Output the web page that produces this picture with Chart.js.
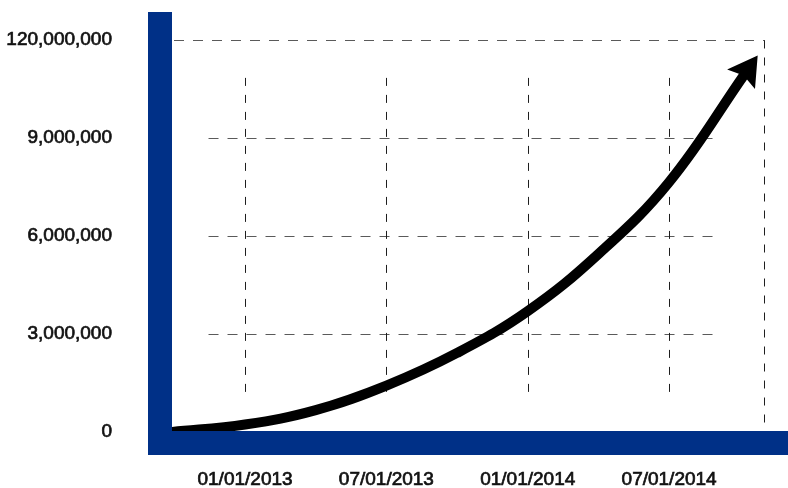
<!DOCTYPE html>
<html>
<head>
<meta charset="utf-8">
<script src="https://cdn.jsdelivr.net/npm/chart.js@4/dist/chart.umd.min.js"></script>
<style>
  html, body { margin: 0; padding: 0; background: #fff; }
  canvas { display: block; }
</style>
</head>
<body>
<canvas id="c" width="788" height="488"></canvas>
<script>
// Time axis in months counted from 01/01/2013
const months = [-3.1, 0, 3, 6, 9, 12, 15, 18, 21.2];
const values = [0, 230000, 670000, 1420000, 2420000, 3700000, 5450000, 7650000, 10950000];

const xTickMonths = [0, 6, 12, 18];
const xTickLabels = ['01/01/2013', '07/01/2013', '01/01/2014', '07/01/2014'];

const yTickValues = [0, 3000000, 6000000, 9000000, 12000000];
const yTickLabels = ['0', '3,000,000', '6,000,000', '9,000,000', '120,000,000'];

const AXIS_BLUE = '#003087';
const LABEL_FONT = { family: "'Liberation Sans', Arial, Helvetica, sans-serif", size: 19 };

// Dashed guide lines, the arrowhead and the heavy blue L-shaped axes
const frame = {
  id: 'frame',
  beforeDatasetsDraw(chart) {
    const { ctx, chartArea: a, scales: { x, y } } = chart;
    ctx.save();
    ctx.lineWidth = 1;

    ctx.strokeStyle = '#5a5a5a';
    ctx.setLineDash([10, 9]);
    yTickValues.slice(1, -1).forEach(v => {
      const py = Math.round(y.getPixelForValue(v)) + 0.5;
      ctx.beginPath();
      ctx.moveTo(x.getPixelForValue(-1.55), py);
      ctx.lineTo(x.getPixelForValue(19.9), py);
      ctx.stroke();
    });
    const topY = Math.round(y.getPixelForValue(yTickValues[yTickValues.length - 1])) + 0.5;
    ctx.beginPath();
    ctx.moveTo(a.left + 2, topY);
    ctx.lineTo(a.right, topY);
    ctx.stroke();

    ctx.strokeStyle = '#1e1e1e';
    ctx.setLineDash([8, 9]);
    xTickMonths.forEach(m => {
      const px = Math.round(x.getPixelForValue(m)) + 0.5;
      ctx.beginPath();
      ctx.moveTo(px, y.getPixelForValue(10840000));
      ctx.lineTo(px, y.getPixelForValue(1130000));
      ctx.stroke();
    });
    const rx = Math.round(a.right) - 0.5;
    ctx.beginPath();
    ctx.moveTo(rx, topY);
    ctx.lineTo(rx, a.bottom - 2);
    ctx.stroke();
    ctx.restore();
  },
  afterDatasetsDraw(chart) {
    const { ctx, chartArea: a } = chart;
    const pts = chart.getDatasetMeta(0).data;
    const last = pts[pts.length - 1];
    const prev = pts[pts.length - 2];
    const dx = last.x - (last.cp1x ?? prev.x);
    const dy = last.y - (last.cp1y ?? prev.y);
    const len = Math.hypot(dx, dy) || 1;
    const ux = dx / len, uy = dy / len;
    const nx = -uy, ny = ux;
    const L = 23, back = 6, W = 17;

    ctx.save();
    ctx.fillStyle = '#000';
    ctx.beginPath();
    ctx.moveTo(last.x + ux * L, last.y + uy * L);
    ctx.lineTo(last.x - ux * back + nx * W, last.y - uy * back + ny * W);
    ctx.lineTo(last.x - ux * 1.5, last.y - uy * 1.5);
    ctx.lineTo(last.x - ux * back - nx * W, last.y - uy * back - ny * W);
    ctx.closePath();
    ctx.fill();

    ctx.fillStyle = AXIS_BLUE;
    ctx.fillRect(a.left - 24, a.top - 28, 24, a.bottom + 23 - (a.top - 28));
    ctx.fillRect(a.left - 24, a.bottom - 1, chart.width - (a.left - 24), 24);
    ctx.restore();
  }
};

new Chart(document.getElementById('c'), {
  type: 'line',
  data: {
    datasets: [{
      data: months.map((m, i) => ({ x: m, y: values[i] })),
      borderColor: '#000',
      borderWidth: 10,
      borderCapStyle: 'butt',
      tension: 0.4,
      pointRadius: 0,
      fill: false
    }]
  },
  options: {
    responsive: false,
    animation: false,
    events: [],
    layout: { padding: { left: 0, top: 40, right: 23, bottom: 0 }, autoPadding: false },
    plugins: { legend: { display: false }, tooltip: { enabled: false } },
    scales: {
      x: {
        type: 'linear',
        min: -3.1,
        max: 22.07,
        grid: { display: false, drawTicks: false },
        border: { display: false },
        afterFit: s => { s.height = 56; s.paddingLeft = 0; s.paddingRight = 0; },
        afterBuildTicks: s => { s.ticks = xTickMonths.map(v => ({ value: v })); },
        ticks: {
          autoSkip: false,
          maxRotation: 0,
          padding: 36,
          color: '#111',
          textStrokeColor: '#111',
          textStrokeWidth: 0.7,
          font: LABEL_FONT,
          callback: (v, i) => xTickLabels[i]
        }
      },
      y: {
        type: 'linear',
        min: 0,
        max: 12000000,
        grid: { display: false, drawTicks: false },
        border: { display: false },
        afterFit: s => { s.width = 172; s.paddingTop = 0; s.paddingBottom = 0; },
        afterBuildTicks: s => { s.ticks = yTickValues.map(v => ({ value: v })); },
        ticks: {
          autoSkip: false,
          padding: 60,
          color: '#111',
          textStrokeColor: '#111',
          textStrokeWidth: 0.7,
          font: LABEL_FONT,
          callback: (v, i) => yTickLabels[i]
        }
      }
    }
  },
  plugins: [frame]
});
</script>
</body>
</html>
